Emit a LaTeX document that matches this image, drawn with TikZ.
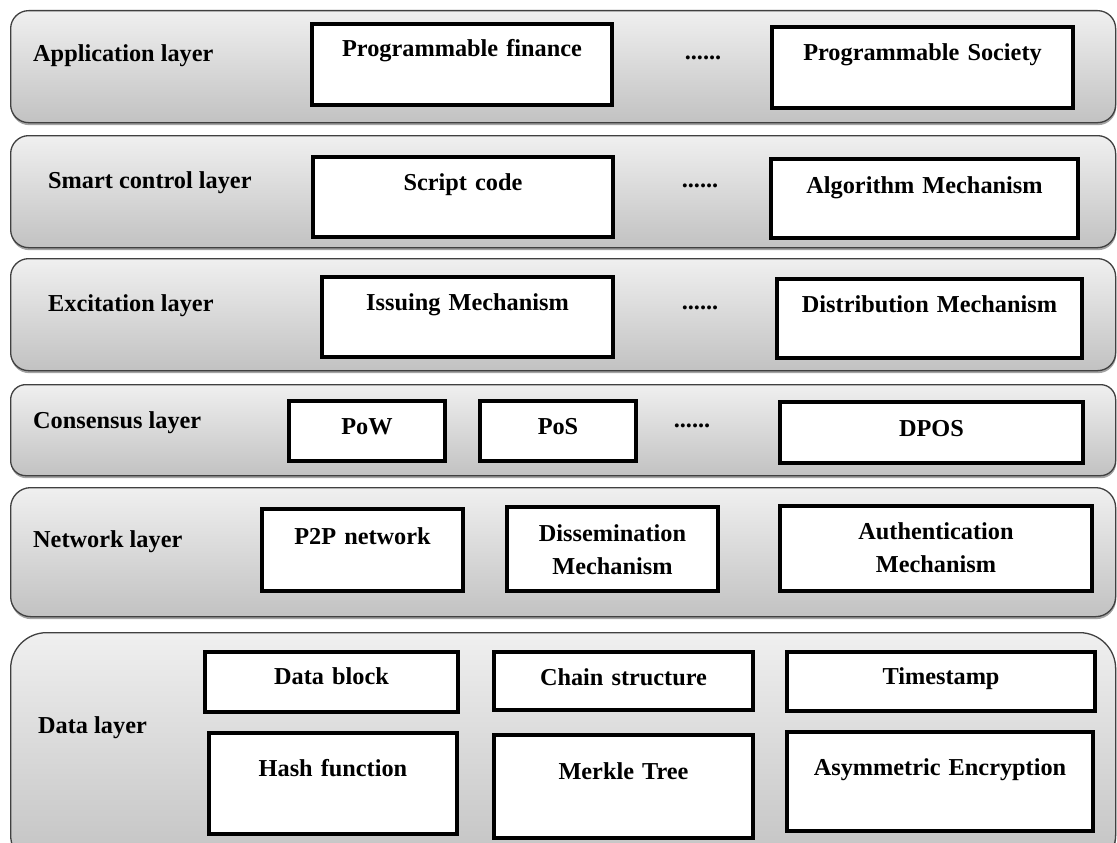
\documentclass[tikz,border=0pt]{standalone}
\usepackage{fontspec}
\setmainfont{Liberation Serif}
\usetikzlibrary{shadows}
\begin{document}
\begin{tikzpicture}[x=1pt,y=-1pt,
  txt/.style={font=\fontsize{24.3}{33}\selectfont\bfseries},
  layer/.style={draw=black!75, line width=1.3pt, top color=black!6, bottom color=black!24,
    anchor=north west, inner sep=0pt, minimum width=1105pt,
    drop shadow={shadow xshift=0.5pt, shadow yshift=-2.5pt, fill=black!60, opacity=0.6}},
  item/.style={txt, draw=black, line width=4pt, fill=white, inner sep=0pt,
    anchor=north west, align=center},
  lbl/.style={txt, anchor=base west, inner sep=0pt},
  dotsep/.style={txt, anchor=base, inner sep=0pt}]
\useasboundingbox (0,0) rectangle (1117,843);
\clip (0,0) rectangle (1117,843);
\fill[white] (0,0) rectangle (1117,843);

% layers
\node[layer, minimum height=112pt, rounded corners=18pt] (L1) at (10,10) {};
\node[layer, minimum height=112pt, rounded corners=18pt] (L2) at (10,135) {};
\node[layer, minimum height=112pt, rounded corners=18pt] (L3) at (10,258) {};
\node[layer, minimum height=91pt, rounded corners=15pt] (L4) at (10,384) {};
\node[layer, minimum height=129pt, rounded corners=20pt] (L5) at (10,487) {};
\node[layer, minimum height=238pt, rounded corners=36pt] (L6) at (10,632) {};

% layer labels
\node[lbl] (t1) at (33,62) {Application layer};
\node[lbl] (t2) at (48,188) {Smart control layer};
\node[lbl] (t3) at (48,311) {Excitation layer};
\node[lbl] (t4) at (33,428) {Consensus layer};
\node[lbl] (t5) at (33,547) {Network layer};
\node[lbl] (t6) at (38,733) {Data layer};

% application layer
\node[item, text width=300pt, text height=33pt, text depth=48pt] (pf) at (310,22) {Programmable finance};
\node[dotsep] (d1) at (703,60) {......};
\node[item, text width=301pt, text height=34pt, text depth=47pt] (ps) at (770,25) {Programmable Society};

% smart control layer
\node[item, text width=300pt, text height=33pt, text depth=47pt] (sc) at (311,155) {Script code};
\node[dotsep] (d2) at (700,187) {......};
\node[item, text width=307pt, text height=34pt, text depth=45pt] (am) at (769,157) {Algorithm Mechanism};

% excitation layer
\node[item, text width=291pt, text height=33pt, text depth=47pt] (im) at (320,275) {Issuing Mechanism};
\node[dotsep] (d3) at (700,309) {......};
\node[item, text width=305pt, text height=33pt, text depth=46pt] (dm) at (775,277) {Distribution Mechanism};

% consensus layer
\node[item, text width=156pt, text height=33pt, text depth=27pt] (pow) at (287,399) {PoW};
\node[item, text width=156pt, text height=33pt, text depth=27pt] (pos) at (478,399) {PoS};
\node[dotsep] (d4) at (692,427) {......};
\node[item, text width=303pt, text height=34pt, text depth=27pt] (dpos) at (778,400) {DPOS};

% network layer
\node[item, text width=201pt, text height=35pt, text depth=47pt] (p2p) at (260,507) {P2P network};
\node[item, text width=211pt, text height=34pt, text depth=50pt] (dis) at (505,505) {Dissemination\\Mechanism};
\node[item, text width=312pt, text height=33pt, text depth=52pt] (auth) at (778,504) {Authentication\\Mechanism};

% data layer
\node[item, text width=253pt, text height=32pt, text depth=28pt] (db) at (203,650) {Data block};
\node[item, text width=259pt, text height=33pt, text depth=25pt] (cs) at (492,650) {Chain structure};
\node[item, text width=308pt, text height=32pt, text depth=27pt] (ts) at (785,650) {Timestamp};
\node[item, text width=248pt, text height=43pt, text depth=58pt] (hf) at (207,731) {Hash function};
\node[item, text width=259pt, text height=44pt, text depth=59pt] (mt) at (492,733) {Merkle Tree};
\node[item, text width=306pt, text height=43pt, text depth=56pt] (ae) at (785,730) {Asymmetric Encryption};
\end{tikzpicture}
\end{document}
